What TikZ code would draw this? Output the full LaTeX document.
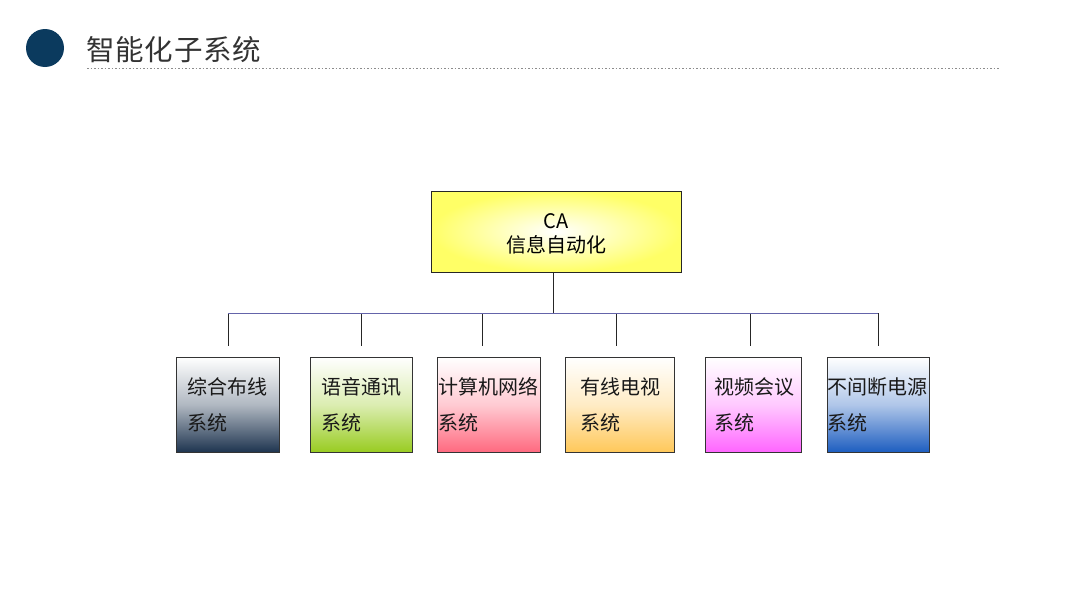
\documentclass[tikz,border=0pt]{standalone}
\usepackage{fontspec}
\setmainfont{Noto Sans CJK SC}
\newfontfamily\titlefont[LetterSpace=3]{Noto Sans CJK SC}
\usetikzlibrary{shadings}
\definecolor{navy}{HTML}{0B3A5E}
\definecolor{titlegrey}{HTML}{333333}
\definecolor{hline}{HTML}{6464AA}
\definecolor{cA}{HTML}{1F3550}
\definecolor{cB}{HTML}{99CC22}
\definecolor{cC}{HTML}{FF6A80}
\definecolor{cD}{HTML}{FFC85A}
\definecolor{cE}{HTML}{FF66FF}
\definecolor{cF}{HTML}{1E5EC0}
\definecolor{yel}{HTML}{FFFF66}
\begin{document}
\begin{tikzpicture}[x=1pt,y=-1pt,
  sub/.style={draw=black!80, line width=0.6pt, minimum height=95pt, inner sep=0pt,
    top color=white, bottom color=#1, middle color=#1!35!white},
  boxtext/.style={anchor=west, font=\fontsize{20}{22}\selectfont, text=black!90, inner sep=0pt},
  drop/.style={draw=black!85, line width=0.7pt},
  bar/.style={draw=hline, line width=0.8pt}
]
\useasboundingbox (0,0) rectangle (1080,608);
% header
\fill[navy] (45,48) circle (19);
\node[anchor=west, inner sep=0pt, text=titlegrey, font=\titlefont\fontsize{28.5}{30}\selectfont] (title) at (86,50) {智能化子系统};
\coordinate (dl) at (87,68);
\coordinate (dr) at (1000,68);
\draw[black!45, line width=0.8pt, dash pattern=on 1.5pt off 2pt] (dl) -- (dr);
% top box
\node[draw=black!85, line width=0.6pt, minimum width=250pt, minimum height=81pt, inner sep=0pt,
  shading=radial, inner color=white, outer color=yel] (ca) at (556,231.5) {};
\node[font=\fontsize{20}{24}\selectfont, align=center, inner sep=0pt] (catext) at (556,233.5) {CA\\信息自动化};
% bottom boxes
\node[sub=cA, minimum width=103pt] (b1) at (227.5,404.5) {};
\node[sub=cB, minimum width=102pt] (b2) at (361,404.5) {};
\node[sub=cC, minimum width=103pt] (b3) at (488.5,404.5) {};
\node[sub=cD, minimum width=109pt] (b4) at (619.5,404.5) {};
\node[sub=cE, minimum width=96pt] (b5) at (753,404.5) {};
\node[sub=cF, minimum width=102pt] (b6) at (878,404.5) {};
% texts
\node[boxtext] (t1a) at (187,387) {综合布线};
\node[boxtext] (t1b) at (187,423) {系统};
\node[boxtext] (t2a) at (321,387) {语音通讯};
\node[boxtext] (t2b) at (321,423) {系统};
\node[boxtext] (t3a) at (438,387) {计算机网络};
\node[boxtext] (t3b) at (438,423) {系统};
\node[boxtext] (t4a) at (580,387) {有线电视};
\node[boxtext] (t4b) at (580,423) {系统};
\node[boxtext] (t5a) at (714,387) {视频会议};
\node[boxtext] (t5b) at (714,423) {系统};
\node[boxtext] (t6a) at (827,387) {不间断电源};
\node[boxtext] (t6b) at (827,423) {系统};
% connectors
\coordinate (j) at (553,313);
\coordinate (j1) at (228,313);
\coordinate (j2) at (361,313);
\coordinate (j3) at (482,313);
\coordinate (j4) at (616,313);
\coordinate (j5) at (750,313);
\coordinate (j6) at (878,313);
\coordinate (e1) at (228,346);
\coordinate (e2) at (361,346);
\coordinate (e3) at (482,346);
\coordinate (e4) at (616,346);
\coordinate (e5) at (750,346);
\coordinate (e6) at (878,346);
\draw[drop] (ca.south -| j) -- (j);
\draw[drop] (j1) -- (e1);
\draw[drop] (j2) -- (e2);
\draw[drop] (j3) -- (e3);
\draw[drop] (j4) -- (e4);
\draw[drop] (j5) -- (e5);
\draw[drop] (j6) -- (e6);
\draw[bar] (j1) -- (j6);
\end{tikzpicture}
\end{document}
